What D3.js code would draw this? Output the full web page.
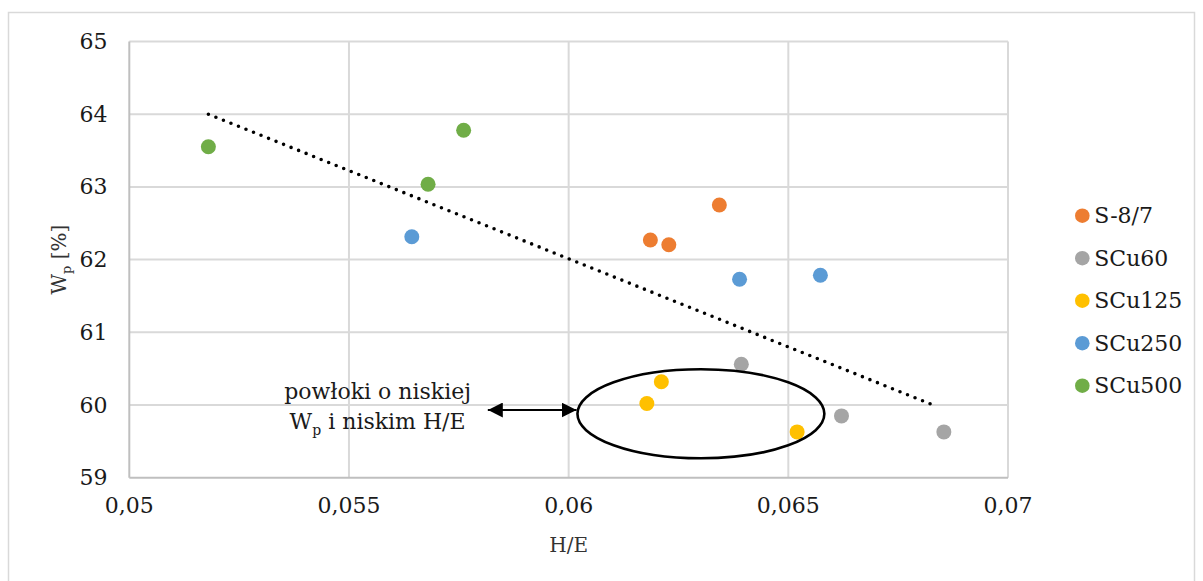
<!DOCTYPE html>
<html>
<head>
<meta charset="utf-8">
<script src="https://cdn.jsdelivr.net/npm/d3@7"></script>
<style>
  html, body { margin: 0; padding: 0; background: #fff; }
  svg { display: block; font-family: "DejaVu Serif", serif; }
</style>
</head>
<body>
<svg id="chart" width="1203" height="581"></svg>
<script>
// Series (H/E, Wp)
const seriesNames = ["S-8/7", "SCu60", "SCu125", "SCu250", "SCu500"];
const seriesColors = ["#ED7D31", "#A5A5A5", "#FFC000", "#5B9BD5", "#70AD47"];
const s87X = [0.06186, 0.06228, 0.06343];
const s87Y = [62.27, 62.205, 62.751];
const scu60X = [0.06393, 0.06621, 0.06854];
const scu60Y = [60.56, 59.85, 59.63];
const scu125X = [0.06178, 0.06211, 0.0652];
const scu125Y = [60.02, 60.32, 59.63];
const scu250X = [0.05643, 0.06389, 0.06573];
const scu250Y = [62.315, 61.729, 61.784];
const scu500X = [0.0518, 0.0568, 0.05761];
const scu500Y = [63.553, 63.036, 63.78];

// Linear trend line end points
const trendX = [0.0518, 0.06839];
const trendY = [64.0, 59.977];

// Axis ticks
const xTicks = [0.05, 0.055, 0.06, 0.065, 0.07];
const xTickLabels = ["0,05", "0,055", "0,06", "0,065", "0,07"];
const yTicks = [59, 60, 61, 62, 63, 64, 65];
const yTickLabels = ["59", "60", "61", "62", "63", "64", "65"];

// Highlighted group (ellipse centre and radii in data units) and arrow
const groupCenter = [0.06301, 59.879];
const groupRadii = [0.00281, 0.612];
const arrowX = [0.05816, 0.06018];
const arrowY = 59.931;

const seriesX = [s87X, scu60X, scu125X, scu250X, scu500X];
const seriesY = [s87Y, scu60Y, scu125Y, scu250Y, scu500Y];
const points = [];
seriesNames.forEach((name, i) => {
  seriesX[i].forEach((x, j) => points.push({ name, color: seriesColors[i], x, y: seriesY[i][j] }));
});

const svg = d3.select("#chart");
const x = d3.scaleLinear().domain([0.05, 0.07]).range([129.3, 1008]);
const y = d3.scaleLinear().domain([59, 65]).range([477.7, 41.5]);

// Chart frame
svg.append("rect")
  .attr("x", 8.5).attr("y", 12.5).attr("width", 1186).attr("height", 620)
  .attr("fill", "#fff").attr("stroke", "#d9d9d9").attr("stroke-width", 1.5);

// Gridlines
const grid = svg.append("g");
grid.selectAll("line.h").data(yTicks.slice(1)).join("line")
  .attr("x1", x(0.05)).attr("x2", x(0.07))
  .attr("y1", d => y(d)).attr("y2", d => y(d))
  .attr("stroke", "#d9d9d9").attr("stroke-width", 2);
grid.selectAll("line.v").data(xTicks.slice(1)).join("line")
  .attr("x1", d => x(d)).attr("x2", d => x(d))
  .attr("y1", y(59)).attr("y2", y(65))
  .attr("stroke", "#d9d9d9").attr("stroke-width", 2);

// Axis lines
svg.append("line")
  .attr("x1", x(0.05)).attr("x2", x(0.05)).attr("y1", y(59)).attr("y2", y(65))
  .attr("stroke", "#bfbfbf").attr("stroke-width", 2);
svg.append("line")
  .attr("x1", x(0.05)).attr("x2", x(0.07)).attr("y1", y(59)).attr("y2", y(59))
  .attr("stroke", "#bfbfbf").attr("stroke-width", 2);

// Tick labels
svg.append("g").selectAll("text").data(yTicks).join("text")
  .attr("x", 107.5).attr("y", d => y(d))
  .attr("text-anchor", "end").attr("dominant-baseline", "central")
  .attr("font-size", 22).attr("fill", "#1a1a1a")
  .text((d, i) => yTickLabels[i]);
svg.append("g").selectAll("text").data(xTicks).join("text")
  .attr("x", d => x(d)).attr("y", 512.7)
  .attr("text-anchor", "middle")
  .attr("font-size", 22).attr("fill", "#1a1a1a")
  .text((d, i) => xTickLabels[i]);

// Axis titles
svg.append("text")
  .attr("x", x(0.06)).attr("y", 552)
  .attr("text-anchor", "middle").attr("font-size", 20).attr("fill", "#333")
  .text("H/E");
const yt = svg.append("text")
  .attr("transform", `translate(66,${(y(59) + y(65)) / 2}) rotate(-90)`)
  .attr("text-anchor", "middle").attr("font-size", 20).attr("fill", "#333");
yt.append("tspan").text("W");
yt.append("tspan").attr("font-size", 13).attr("dy", 5).text("p");
yt.append("tspan").attr("dy", -5).text(" [%]");

// Trend line
svg.append("line")
  .attr("x1", x(trendX[0])).attr("y1", y(trendY[0]))
  .attr("x2", x(trendX[1])).attr("y2", y(trendY[1]))
  .attr("stroke", "#000").attr("stroke-width", 3.6)
  .attr("stroke-linecap", "round").attr("stroke-dasharray", "0 8.1");

// Points
svg.append("g").selectAll("circle").data(points).join("circle")
  .attr("cx", d => x(d.x)).attr("cy", d => y(d.y)).attr("r", 7.5)
  .attr("fill", d => d.color);

// Annotation: ellipse around low-Wp, low-H/E coatings
svg.append("ellipse")
  .attr("cx", x(groupCenter[0])).attr("cy", y(groupCenter[1]))
  .attr("rx", x(groupCenter[0] + groupRadii[0]) - x(groupCenter[0]))
  .attr("ry", y(groupCenter[1]) - y(groupCenter[1] + groupRadii[1]))
  .attr("fill", "none").attr("stroke", "#000").attr("stroke-width", 2.6);

// Double-headed arrow
const defs = svg.append("defs");
["start", "end"].forEach(k => {
  defs.append("marker")
    .attr("id", "arrow-" + k)
    .attr("viewBox", "0 0 10 10").attr("refX", k === "end" ? 10 : 0).attr("refY", 5)
    .attr("markerWidth", 15).attr("markerHeight", 15)
    .attr("markerUnits", "userSpaceOnUse").attr("orient", "auto")
    .append("path")
    .attr("d", k === "end" ? "M0,0 L10,5 L0,10 Z" : "M10,0 L0,5 L10,10 Z")
    .attr("fill", "#000");
});
svg.append("line")
  .attr("x1", x(arrowX[0])).attr("x2", x(arrowX[1]))
  .attr("y1", y(arrowY)).attr("y2", y(arrowY))
  .attr("stroke", "#000").attr("stroke-width", 2)
  .attr("marker-start", "url(#arrow-start)").attr("marker-end", "url(#arrow-end)");

// Annotation text
const note = svg.append("text").attr("font-size", 22).attr("fill", "#1a1a1a").attr("text-anchor", "middle");
note.append("tspan").attr("x", 377.6).attr("y", 399).text("powłoki o niskiej");
const l2 = note.append("tspan").attr("x", 377.6).attr("y", 429);
l2.append("tspan").text("W");
l2.append("tspan").attr("font-size", 14).attr("dy", 6).text("p");
l2.append("tspan").attr("dy", -6).text(" i niskim H/E");

// Legend
const legend = svg.append("g").selectAll("g").data(seriesNames).join("g")
  .attr("transform", (d, i) => `translate(1082.3,${215.7 + i * 42.5})`);
legend.append("circle").attr("r", 7.3).attr("fill", (d, i) => seriesColors[i]);
legend.append("text")
  .attr("x", 12).attr("dominant-baseline", "central")
  .attr("font-size", 22).attr("fill", "#1a1a1a")
  .text(d => d);
</script>
</body>
</html>
